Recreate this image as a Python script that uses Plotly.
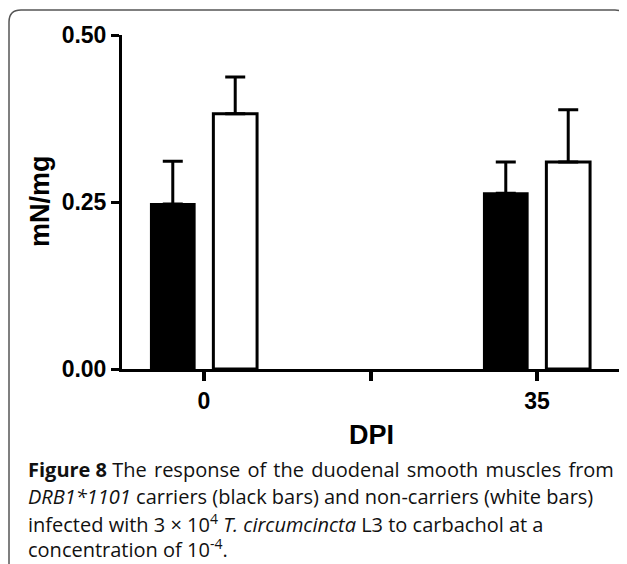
import plotly.graph_objects as go

# ---- data ----
dpi = [0, 35]
carriers_mean = [0.247, 0.263]
carriers_err = [0.064, 0.047]
noncarriers_mean = [0.382, 0.310]
noncarriers_err = [0.055, 0.078]
y_ticks = [0.0, 0.25, 0.5]
y_ticktext = ["0.00", "0.25", "0.50"]
x_ticks = [0, 17.5, 35]
x_ticktext = ["0", " ", "35"]

# the page body has an 8px margin, so the figure is drawn 8px in from the window corner
OFF = 8
W, H = 627 - OFF, 564 - OFF
L = 122 - OFF
R = W - (621 - OFF)
T = 35 - OFF
B = H - (369 - OFF)
PW, PH = W - L - R, H - T - B


def xp(px):
    """window pixel x -> paper fraction"""
    return (px - OFF - L) / PW


def yp(py):
    """window pixel y -> paper fraction"""
    return (H - B - (py - OFF)) / PH


fig = go.Figure()
fig.add_trace(go.Bar(
    x=dpi, y=carriers_mean, name="DRB1*1101 carriers",
    marker=dict(color="black", line=dict(color="black", width=2)),
    error_y=dict(type="data", symmetric=False, array=carriers_err,
                 arrayminus=[0, 0], thickness=3, width=10, color="black"),
))
fig.add_trace(go.Bar(
    x=dpi, y=noncarriers_mean, name="non-carriers",
    marker=dict(color="white", line=dict(color="black", width=3)),
    error_y=dict(type="data", symmetric=False, array=noncarriers_err,
                 arrayminus=[0, 0], thickness=3, width=10, color="black"),
))

px_per_unit = (537 - 204) / 35.0
axis_font = dict(family="Liberation Sans, Arial, sans-serif", size=23,
                 color="black", weight="bold")
fig.update_layout(
    width=W, height=H,
    margin=dict(l=L, r=R, t=T, b=B),
    paper_bgcolor="white", plot_bgcolor="white",
    showlegend=False,
    barmode="group", bargap=0.625, bargroupgap=0.3,
    xaxis=dict(range=[(122 - 204) / px_per_unit, 35 + (621 - 537) / px_per_unit],
               tickvals=x_ticks, ticktext=x_ticktext,
               showgrid=False, zeroline=False,
               showline=True, linecolor="black", linewidth=3,
               ticks="outside", ticklen=9, tickwidth=4, tickcolor="black",
               tickfont=axis_font),
    yaxis=dict(range=[0, 0.5], tickvals=y_ticks, ticktext=y_ticktext,
               showgrid=False, zeroline=False,
               showline=True, linecolor="black", linewidth=3,
               ticks="outside", ticklen=8, tickwidth=3, tickcolor="black",
               tickfont=axis_font),
)

title_font = dict(family="Liberation Sans, Arial, sans-serif", size=27,
                  color="black", weight="bold")
fig.add_annotation(text="mN/mg", x=xp(40), y=yp(201), xref="paper", yref="paper",
                   textangle=-90, showarrow=False, font=title_font,
                   xanchor="center", yanchor="middle")
fig.add_annotation(text="DPI", x=xp(371), y=yp(435), xref="paper", yref="paper",
                   showarrow=False, font=title_font,
                   xanchor="center", yanchor="middle")

hs = " \u200a"  # justified first line: slightly wider word spacing
caption_lines = [
    "<b>Figure 8</b> The" + hs + "response" + hs + "of" + hs + "the" + hs + "duodenal"
    + hs + "smooth" + hs + "muscles" + hs + "from",
    "<i>DRB1*1101</i> carriers (black bars) and non-carriers (white bars)",
    "infected with 3 × 10<sup>4</sup> <i>T. circumcincta</i> L3 to carbachol at a",
    "concentration of 10<sup>-4</sup>.",
]
caption_y = [470, 497, 523, 548]
cap_font = dict(family="Open Sans, Noto Sans, sans-serif", size=20, color="#111111")
for line, cy in zip(caption_lines, caption_y):
    fig.add_annotation(text=line, x=xp(26), y=yp(cy), xref="paper", yref="paper",
                       showarrow=False, font=cap_font, xanchor="left", yanchor="middle",
                       align="left")

# rounded frame around the figure (window pixel coordinates converted to paper)
r = 12
path = (f"M {xp(9)},{yp(600)} L {xp(9)},{yp(10 + r)} "
        f"Q {xp(9)},{yp(10)} {xp(9 + r)},{yp(10)} "
        f"L {xp(627 - r)},{yp(10)} Q {xp(627)},{yp(10)} {xp(627)},{yp(10 + r)} "
        f"L {xp(627)},{yp(600)}")
fig.add_shape(type="path", path=path, xref="paper", yref="paper",
              line=dict(color="#555555", width=1.5))

fig.write_html("out.html")
